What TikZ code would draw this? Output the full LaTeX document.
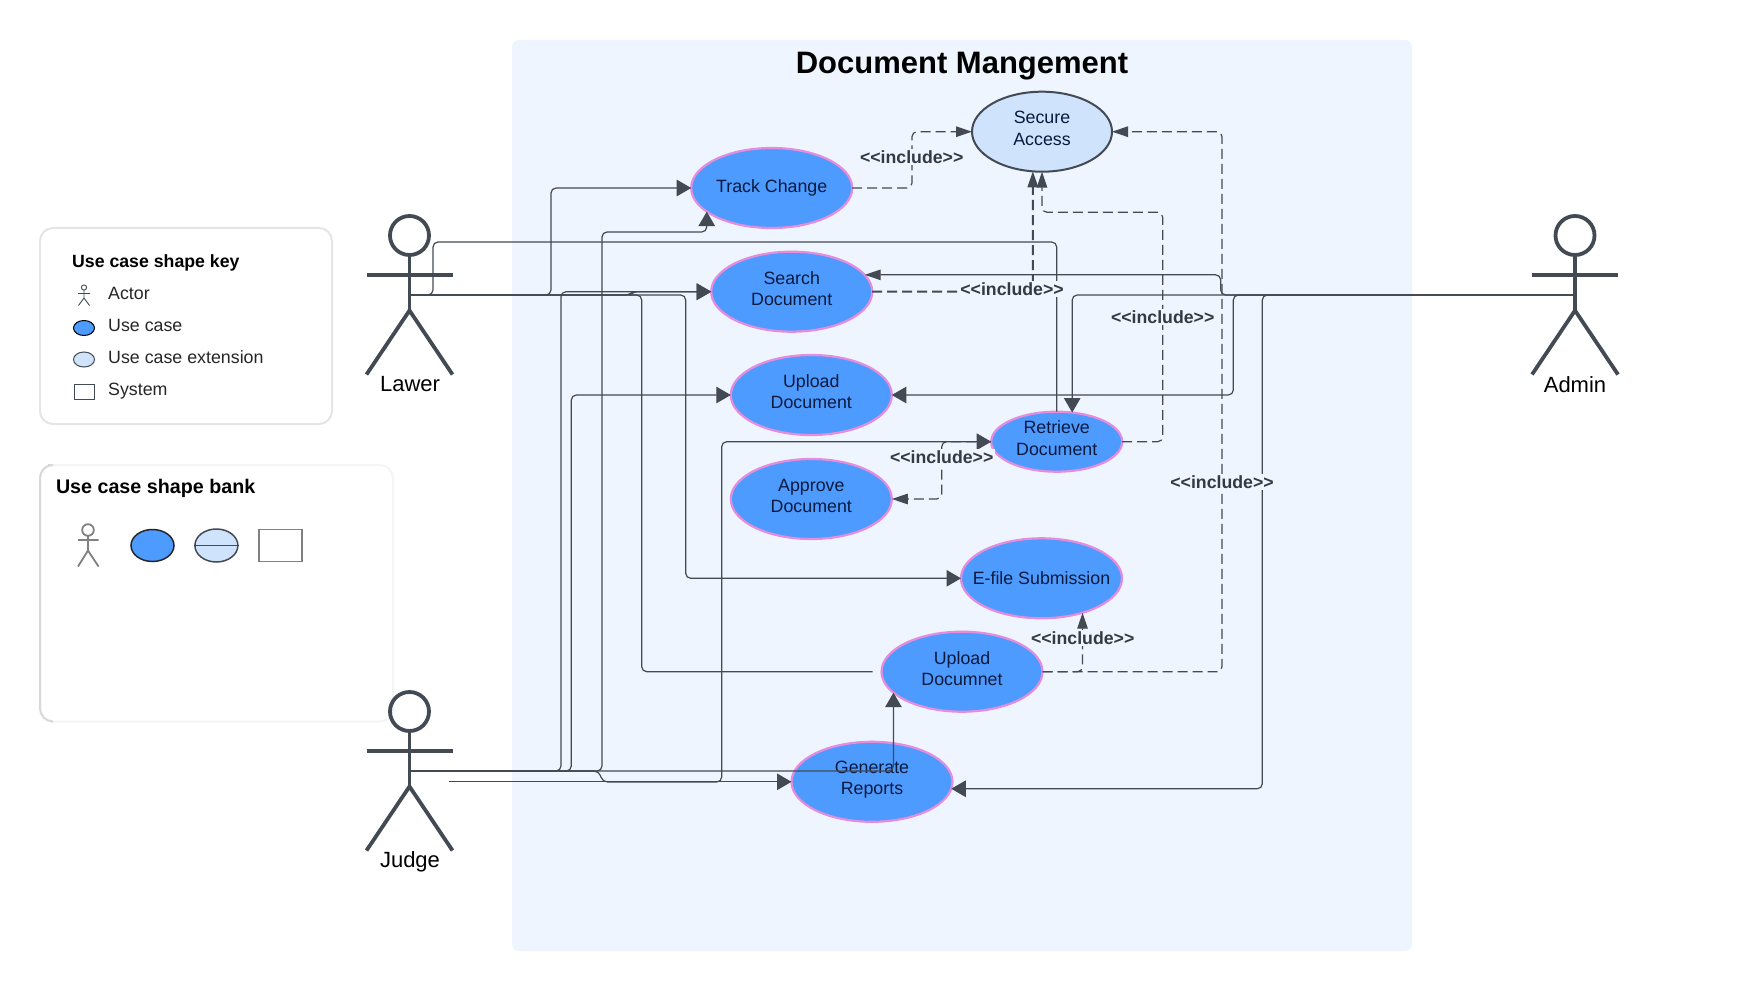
\documentclass[tikz,border=0pt]{standalone}
\usepackage{fontspec}
\setmainfont{Liberation Sans}
\usetikzlibrary{arrows.meta,shapes.geometric}
\definecolor{framebg}{HTML}{EEF5FE}
\definecolor{lineclr}{HTML}{434A54}
\definecolor{inclink}{HTML}{333A45}
\definecolor{ucblue}{HTML}{4E9BFF}
\definecolor{uclight}{HTML}{CFE3FC}
\definecolor{ucpink}{HTML}{E68CDC}
\definecolor{ucink}{HTML}{0B1A3C}
\newcommand{\lift}[1]{\rule[-#1]{0pt}{0pt}}
\tikzset{
  uc/.style={ellipse,draw=ucpink,fill=ucblue,line width=2.2pt,inner sep=0pt,outer sep=0pt,
    minimum width=161pt,minimum height=80pt,align=center,text=ucink,
    font=\fontsize{17.8}{21.5}\selectfont},
  ucext/.style={ellipse,draw=lineclr,fill=uclight,line width=2pt,inner sep=0pt,outer sep=0pt,
    minimum width=140pt,minimum height=80pt,align=center,text=ucink,
    font=\fontsize{17.8}{21.5}\selectfont},
  conn/.style={draw=lineclr,line width=1.2pt,rounded corners=5pt},
  connarr/.style={conn,-{Triangle[length=14.5pt,width=16.5pt]}},
  connslim/.style={conn,-{Triangle[length=16pt,width=10.5pt]}},
  inclln/.style={connslim,dash pattern=on 10pt off 5pt},
  incllabel/.style={fill=framebg,inner sep=1.5pt,text=inclink,font=\fontsize{17.7}{20}\selectfont\bfseries},
  keytxt/.style={anchor=west,inner sep=0pt,text=black!85,font=\fontsize{17.8}{20}\selectfont},
  actorlbl/.style={text=black,inner sep=0pt,font=\fontsize{22}{26}\selectfont},
  bigactor/.pic={
    \draw[lineclr,line width=3.8pt] (0,-59.5) circle (19.5pt);
    \draw[lineclr,line width=3.8pt] (0,-40) -- (0,15.5);
    \draw[lineclr,line width=3.8pt] (-43,-20) -- (43,-20);
    \draw[lineclr,line width=3.8pt,line join=round] (-43,79.5) -- (0,15.5) -- (43,79.5);
  }
}
\begin{document}
\begin{tikzpicture}[x=1pt,y=-1pt]
\useasboundingbox (0,0) rectangle (1739,992);
\fill[white] (0,0) rectangle (1739,992);
% system frame
\fill[framebg,rounded corners=7pt] (512,40) rectangle (1412,951);
\node[inner sep=0pt,font=\fontsize{31}{36}\selectfont\bfseries] (title) at (962,66) {Document Mangement};

% legend boxes
\draw[black!10,line width=2pt,fill=white,rounded corners=13pt] (40,228) rectangle (332,424);
\node[anchor=west,inner sep=0pt,font=\fontsize{17.7}{20}\selectfont\bfseries] (keytitle) at (72,263) {Use case shape key};
\draw[lineclr,line width=0.9pt] (84,287.5) circle (2.6pt);
\draw[lineclr,line width=0.9pt] (84,290) -- (84,298) (78,293.5) -- (90,293.5) (78.5,305.5) -- (84,298) -- (89.5,305.5);
\node[keytxt] (kactor) at (108,293.5) {Actor};
\node[ellipse,draw=black,fill=ucblue,line width=1pt,inner sep=0pt,minimum width=21pt,minimum height=15pt] (kuc) at (84,328) {};
\node[keytxt] (kuct) at (108,325.5) {Use case};
\node[ellipse,draw=lineclr,fill=uclight,line width=1pt,inner sep=0pt,minimum width=21pt,minimum height=15pt] (kext) at (84,359.5) {};
\node[keytxt] (kextt) at (108,357.5) {Use case extension};
\node[draw=lineclr,fill=white,line width=1pt,inner sep=0pt,minimum width=20.5pt,minimum height=15.5pt] (ksys) at (84.3,392) {};
\node[keytxt] (ksyst) at (108,391) {System};

\draw[black!4,line width=2pt,fill=white,rounded corners=13pt] (40,465) rectangle (393,721.5);
\draw[black!15,line width=2pt,rounded corners=13pt] (48,465) -- (40,465) -- (40,721.5) -- (52,721.5);
\node[anchor=west,inner sep=0pt,font=\fontsize{19.7}{22}\selectfont\bfseries] (banktitle) at (55.8,488) {Use case shape bank};
\draw[black!50,line width=1.8pt] (88,530) circle (5.8pt);
\draw[black!50,line width=1.8pt] (88,535.8) -- (88,550.5) (78,540) -- (98.5,540) (78,566.5) -- (88,550.5) -- (98.5,566.5);
\node[ellipse,draw=black!85,fill=ucblue,line width=1.5pt,inner sep=0pt,minimum width=43pt,minimum height=32pt] (buc) at (152.5,545.5) {};
\node[ellipse,draw=lineclr,fill=uclight,line width=1.5pt,inner sep=0pt,minimum width=43pt,minimum height=33pt] (bext) at (216.4,545.5) {};
\draw[lineclr,line width=1.5pt] (bext.west) -- (bext.east);
\node[draw=black!50,fill=white,line width=1.6pt,inner sep=0pt,minimum width=43pt,minimum height=32pt] (bsys) at (280.5,545.5) {};

% actors
\pic at (409.5,295) {bigactor};
\pic at (409.5,771) {bigactor};
\pic at (1575,295) {bigactor};
\node[actorlbl] (lawer) at (410,384.5) {Lawer};
\node[actorlbl] (judge) at (410,862) {Judge};
\node[actorlbl] (admin) at (1575,384.5) {Admin};
\coordinate (lawerc) at (409.5,295);
\coordinate (judgec) at (409.5,771);
\coordinate (judgeb) at (449,781.8);
\coordinate (adminc) at (1575,295);
\coordinate (udstub) at (872.7,671.7);

% use cases
\node[ucext] (sa) at (1042,131.7) {Secure\\Access\lift{6.6pt}};
\node[uc] (tc) at (771.7,188) {Track Change};
\node[uc] (sd) at (791.7,291.7) {Search\\Document\lift{6.6pt}};
\node[uc] (ud) at (811.3,395) {Upload\\Document\lift{6.6pt}};
\node[uc] (ad) at (811.3,499) {Approve\\Document\lift{6.6pt}};
\node[uc,minimum width=131pt,minimum height=60pt] (rd) at (1056.7,441.7) {Retrieve\\Document\lift{7.4pt}};
\node[uc] (ef) at (1041.5,578.3) {\makebox[0pt]{E-file Submission}};
\node[uc] (un) at (962,671.7) {Upload\\Documnet\lift{6.6pt}};
\node[uc] (gr) at (872,781.8) {Generate\\Reports\lift{8pt}};

% Lawer
\draw[connarr] (lawerc) -- (551,295) |- (tc.west);
\draw[connarr] (lawerc) -- (630,295) -- (633,291.7) -- (sd.west);
\draw[conn] (lawerc) -- (641.7,295) |- (udstub);
\draw[connarr] (lawerc) -- (685.7,295) |- (ef.west);
\draw[conn] (lawerc) -- (433,295) -- (433,242) -- (rd.north |- 0,242) -- (rd.north);
% Judge
\draw[connarr] (judgec) -- (561,771) |- (sd.west);
\draw[connarr] (judgec) -- (571.3,771) |- (ud.west);
\draw[connarr] (judgec) -- (602,771) -- (602,232) -- (tc.200 |- 0,232) -- (tc.200);
\draw[connarr] (judgec) -- (599,771) -- (602.5,782) -- (721.7,782) |- (rd.west);
\draw[connarr] (judgec) -- (un.197 |- judgec) -- (un.197);
\draw[connarr] (judgeb) -- (gr.west);
% Admin
\draw[connslim] (adminc) -- (1220.7,295) |- (sd.13);
\draw[connarr] (adminc) -- (1233.3,295) |- (ud.east);
\draw[connarr] (adminc) -- (rd.62 |- adminc) -- (rd.62);
\draw[connarr] (adminc) -- (1262.3,295) |- (gr.355);
% include
\draw[inclln] (tc.east) -| (912,160) |- (sa.west);
\draw[inclln,line width=2pt] (sd.east) -| (sa.257);
\draw[inclln] (rd.east) -| (1162.7,212.3) -| (sa.south);
\draw[inclln] (un.east) -| (1222,300) |- (sa.east);
\draw[inclln] (un.east) -| (ef.320);
\draw[inclln] (rd.west) -| (941.7,470) |- (ad.east);
% include labels
\node[incllabel] (l1) at (911.7,157.3) {<{}<include>{}>};
\node[incllabel] (l2) at (1012,289.3) {<{}<include>{}>};
\node[incllabel] (l3) at (1162.7,317.3) {<{}<include>{}>};
\node[incllabel] (l4) at (941.7,457.3) {<{}<include>{}>};
\node[incllabel] (l5) at (1222,482.3) {<{}<include>{}>};
\node[incllabel] (l6) at (1082.7,638.3) {<{}<include>{}>};
\end{tikzpicture}
\end{document}
